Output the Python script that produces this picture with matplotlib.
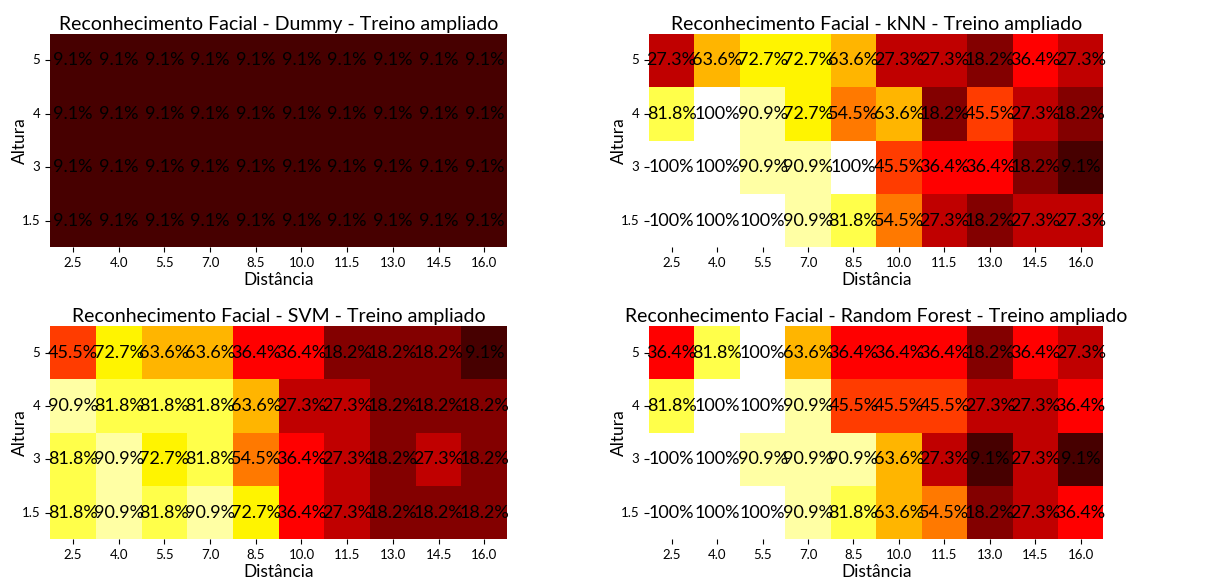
import numpy as np
import seaborn as sns
from matplotlib import pyplot as plt

plt.rcParams['font.family'] = ['Lato', 'DejaVu Sans']

distancias = [2.5, 4.0, 5.5, 7.0, 8.5, 10.0, 11.5, 13.0, 14.5, 16.0]
alturas = ['5', '4', '3', '1.5']

# taxa de acerto (%) por altura (linhas, de cima para baixo) e distancia
dummy = [
    [9.1] * 10,
    [9.1] * 10,
    [9.1] * 10,
    [9.1] * 10,
]
knn = [
    [27.3, 63.6, 72.7, 72.7, 63.6, 27.3, 27.3, 18.2, 36.4, 27.3],
    [81.8, 100, 90.9, 72.7, 54.5, 63.6, 18.2, 45.5, 27.3, 18.2],
    [100, 100, 90.9, 90.9, 100, 45.5, 36.4, 36.4, 18.2, 9.1],
    [100, 100, 100, 90.9, 81.8, 54.5, 27.3, 18.2, 27.3, 27.3],
]
svm = [
    [45.5, 72.7, 63.6, 63.6, 36.4, 36.4, 18.2, 18.2, 18.2, 9.1],
    [90.9, 81.8, 81.8, 81.8, 63.6, 27.3, 27.3, 18.2, 18.2, 18.2],
    [81.8, 90.9, 72.7, 81.8, 54.5, 36.4, 27.3, 18.2, 27.3, 18.2],
    [81.8, 90.9, 81.8, 90.9, 72.7, 36.4, 27.3, 18.2, 18.2, 18.2],
]
rf = [
    [36.4, 81.8, 100, 63.6, 36.4, 36.4, 36.4, 18.2, 36.4, 27.3],
    [81.8, 100, 100, 90.9, 45.5, 45.5, 45.5, 27.3, 27.3, 36.4],
    [100, 100, 90.9, 90.9, 90.9, 63.6, 27.3, 9.1, 27.3, 9.1],
    [100, 100, 100, 90.9, 81.8, 63.6, 54.5, 18.2, 27.3, 36.4],
]

modelos = [('Dummy', dummy), ('kNN', knn), ('SVM', svm), ('Random Forest', rf)]


def rotulo(v):
    return '100%' if v >= 100 else '%.1f%%' % v


fig = plt.figure(figsize=(12.22, 5.83), dpi=100)
pos = [[0.041, 0.576, 0.374, 0.366],
       [0.531, 0.576, 0.372, 0.366],
       [0.041, 0.075, 0.374, 0.366],
       [0.531, 0.075, 0.372, 0.366]]

for (nome, dados), p in zip(modelos, pos):
    ax = fig.add_axes(p)
    m = np.array(dados) / 100.0
    annot = np.array([[rotulo(v) for v in linha] for linha in dados])
    sns.heatmap(m, ax=ax, cmap='hot', vmin=0, vmax=1, cbar=False,
                annot=annot, fmt='', xticklabels=distancias, yticklabels=alturas,
                annot_kws={'color': 'black', 'fontsize': 13})
    ax.set_title('Reconhecimento Facial - %s - Treino ampliado' % nome, fontsize=14, pad=3)
    ax.set_xlabel('Distância', fontsize=12.5, labelpad=2)
    ax.set_ylabel('Altura', fontsize=12.5)
    ax.yaxis.set_label_coords(-0.048, 0.5)
    ax.tick_params(axis='both', labelsize=9.5)
    ax.tick_params(axis='y', rotation=0)
    ax.tick_params(axis='x', rotation=0)

plt.savefig('out.png', dpi=100)
